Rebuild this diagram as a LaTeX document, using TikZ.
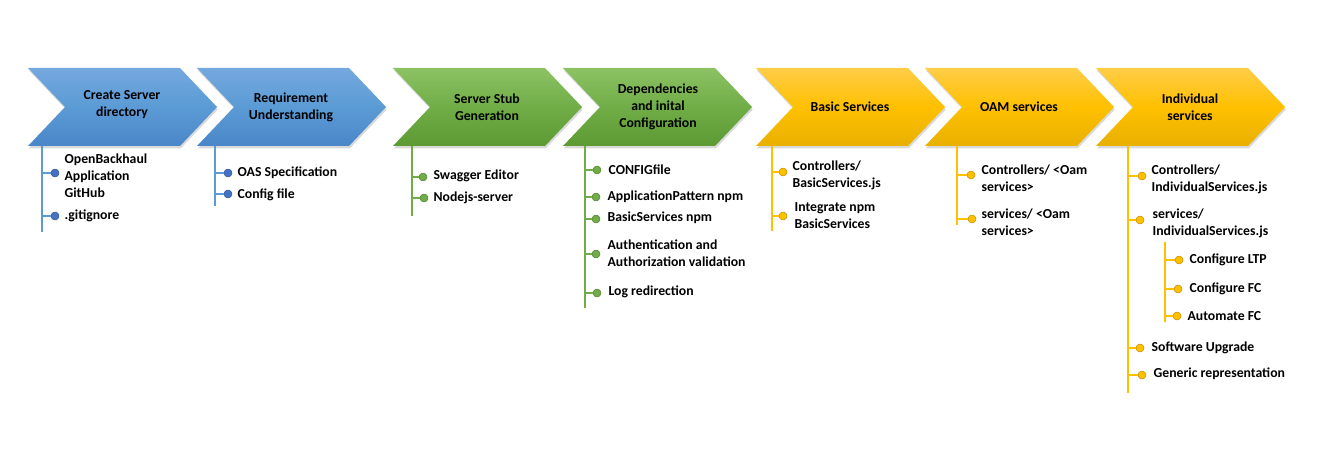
\documentclass[tikz,border=0pt]{standalone}
\usepackage{fontspec}
\setmainfont{Carlito}
\usetikzlibrary{shadows}
\definecolor{bluetop}{HTML}{74A8DE}
\definecolor{bluemid}{HTML}{5B9BD5}
\definecolor{bluebot}{HTML}{4A86C8}
\definecolor{greentop}{HTML}{8CC263}
\definecolor{greenmid}{HTML}{70AD47}
\definecolor{greenbot}{HTML}{5D9A33}
\definecolor{yellowtop}{HTML}{FFCD48}
\definecolor{yellowmid}{HTML}{FFC000}
\definecolor{yellowbot}{HTML}{E8B000}
\definecolor{bluedot}{HTML}{4472C4}
\begin{document}
\begin{tikzpicture}[x=.75pt,y=-.75pt,line join=round,font=\fontsize{10.3}{12.8}\selectfont\bfseries,
		chev/.style={drop shadow={shadow xshift=.6pt,shadow yshift=-1.8pt,opacity=.3}},
		bluechev/.style={chev,top color=bluetop,bottom color=bluebot,middle color=bluemid},
		greenchev/.style={chev,top color=greentop,bottom color=greenbot,middle color=greenmid},
		yellowchev/.style={chev,top color=yellowtop,bottom color=yellowbot,middle color=yellowmid},
		lbl/.style={align=center,inner sep=1pt},
		item/.style={anchor=west,align=left,inner sep=1pt},
		dot/.style={circle,inner sep=0pt,minimum size=6pt,draw=#1!75!black,fill=#1,line width=.4pt},
		stem/.style={draw=#1,line width=1.4pt},
		tick/.style={draw=#1,line width=.9pt}]
				\useasboundingbox (0,0) rectangle (1319,449);
				\def\w{152}
				\def\d{37}
				\def\h{39}
				\path[bluechev] (28,68) --++(\w,0) --++(\d,\h) --++(-\d,\h) --++(-\w,0) --++(\d,-\h) --cycle;
				\path[bluechev] (197,68) --++(\w,0) --++(\d,\h) --++(-\d,\h) --++(-\w,0) --++(\d,-\h) --cycle;
				\path[greenchev] (393,68) --++(\w,0) --++(\d,\h) --++(-\d,\h) --++(-\w,0) --++(\d,-\h) --cycle;
				\path[greenchev] (563,68) --++(\w,0) --++(\d,\h) --++(-\d,\h) --++(-\w,0) --++(\d,-\h) --cycle;
				\path[yellowchev] (756,68) --++(\w,0) --++(\d,\h) --++(-\d,\h) --++(-\w,0) --++(\d,-\h) --cycle;
				\path[yellowchev] (925,68) --++(\w,0) --++(\d,\h) --++(-\d,\h) --++(-\w,0) --++(\d,-\h) --cycle;
				\path[yellowchev] (1096,68) --++(\w,0) --++(\d,\h) --++(-\d,\h) --++(-\w,0) --++(\d,-\h) --cycle;
				\path
				(122,105) node[lbl] (dir) {Create Server\\directory}
				(291,107) node[lbl] (req) {Requirement\\Understanding}
				(487,107) node[lbl] (stub) {Server Stub\\Generation}
				(658,107) node[lbl] (dep) {Dependencies\\and inital\\Configuration}
				(850,107) node[lbl] (basic) {Basic Services}
				(1019,107) node[lbl] (oam) {OAM services}
				(1190,107) node[lbl] (indiv) {Individual\\services}
				;
				\path
				(42,146) coordinate (s1) (42,232) coordinate (s1e)
				(215,146) coordinate (s2) (215,206) coordinate (s2e)
				(412,146) coordinate (s3) (412,216) coordinate (s3e)
				(585,146) coordinate (s4) (585,308) coordinate (s4e)
				(772,146) coordinate (s5) (772,231) coordinate (s5e)
				(957,146) coordinate (s6) (957,225) coordinate (s6e)
				(1128,146) coordinate (s7) (1128,393) coordinate (s7e)
				(1165,242) coordinate (s8) (1165,322) coordinate (s8e)
				;
				\path
				(55,173) node[dot=bluedot] (a1) {}
				(55,216) node[dot=bluedot] (a2) {}
				(228,173) node[dot=bluedot] (b1) {}
				(228,194) node[dot=bluedot] (b2) {}
				(423,177) node[dot=greenmid] (c1) {}
				(424,198) node[dot=greenmid] (c2) {}
				(597,170) node[dot=greenmid] (d1) {}
				(596,197) node[dot=greenmid] (d2) {}
				(596,219) node[dot=greenmid] (d3) {}
				(596,254) node[dot=greenmid] (d4) {}
				(597,293) node[dot=greenmid] (d5) {}
				(783,172) node[dot=yellowmid] (e1) {}
				(783,216) node[dot=yellowmid] (e2) {}
				(971,175) node[dot=yellowmid] (f1) {}
				(972,219) node[dot=yellowmid] (f2) {}
				(1142,176) node[dot=yellowmid] (g1) {}
				(1140,220) node[dot=yellowmid] (g2) {}
				(1179,260) node[dot=yellowmid] (h1) {}
				(1178,289) node[dot=yellowmid] (h2) {}
				(1177,316) node[dot=yellowmid] (h3) {}
				(1140,348) node[dot=yellowmid] (g3) {}
				(1142,375) node[dot=yellowmid] (g4) {}
				;
				\path
				(63,176) node[item] (ta1) {OpenBackhaul\\Application\\GitHub}
				(63,216) node[item] (ta2) {.gitignore}
				(236,173) node[item] (tb1) {OAS Specification}
				(236,195) node[item] (tb2) {Config file}
				(432,176) node[item] (tc1) {Swagger Editor}
				(432,198) node[item] (tc2) {Nodejs-server}
				(607,170) node[item] (td1) {CONFIGfile}
				(606,197) node[item] (td2) {ApplicationPattern npm}
				(606,218) node[item] (td3) {BasicServices npm}
				(606,253) node[item] (td4) {Authentication and\\Authorization validation}
				(607,292) node[item] (td5) {Log redirection}
				(791,175) node[item] (te1) {Controllers/\\BasicServices.js}
				(793,216) node[item] (te2) {Integrate npm\\BasicServices}
				(980,178) node[item] (tf1) {Controllers/ <Oam\\services>}
				(980,222) node[item] (tf2) {services/ <Oam\\services>}
				(1150,179) node[item] (tg1) {Controllers/\\IndividualServices.js}
				(1151,223) node[item] (tg2) {services/\\IndividualServices.js}
				(1188,260) node[item] (th1) {Configure LTP}
				(1188,289) node[item] (th2) {Configure FC}
				(1186,316) node[item] (th3) {Automate FC}
				(1150,348) node[item] (tg3) {Software Upgrade}
				(1152,374) node[item] (tg4) {Generic representation}
				;
				\draw[stem=bluemid] (s1)--(s1e) (s2)--(s2e);
				\draw[stem=greenmid] (s3)--(s3e) (s4)--(s4e);
				\draw[stem=yellowmid] (s5)--(s5e) (s6)--(s6e) (s7)--(s7e) (s8)--(s8e);
				\draw[tick=bluemid] (s1|-a1)--(a1) (s1|-a2)--(a2) (s2|-b1)--(b1) (s2|-b2)--(b2);
				\draw[tick=greenmid] (s3|-c1)--(c1) (s3|-c2)--(c2)
				(s4|-d1)--(d1) (s4|-d2)--(d2) (s4|-d3)--(d3) (s4|-d4)--(d4) (s4|-d5)--(d5);
				\draw[tick=yellowmid] (s5|-e1)--(e1) (s5|-e2)--(e2) (s6|-f1)--(f1) (s6|-f2)--(f2)
				(s7|-g1)--(g1) (s7|-g2)--(g2) (s7|-g3)--(g3) (s7|-g4)--(g4)
				(s8|-h1)--(h1) (s8|-h2)--(h2) (s8|-h3)--(h3);
		\end{tikzpicture}
\end{document}
